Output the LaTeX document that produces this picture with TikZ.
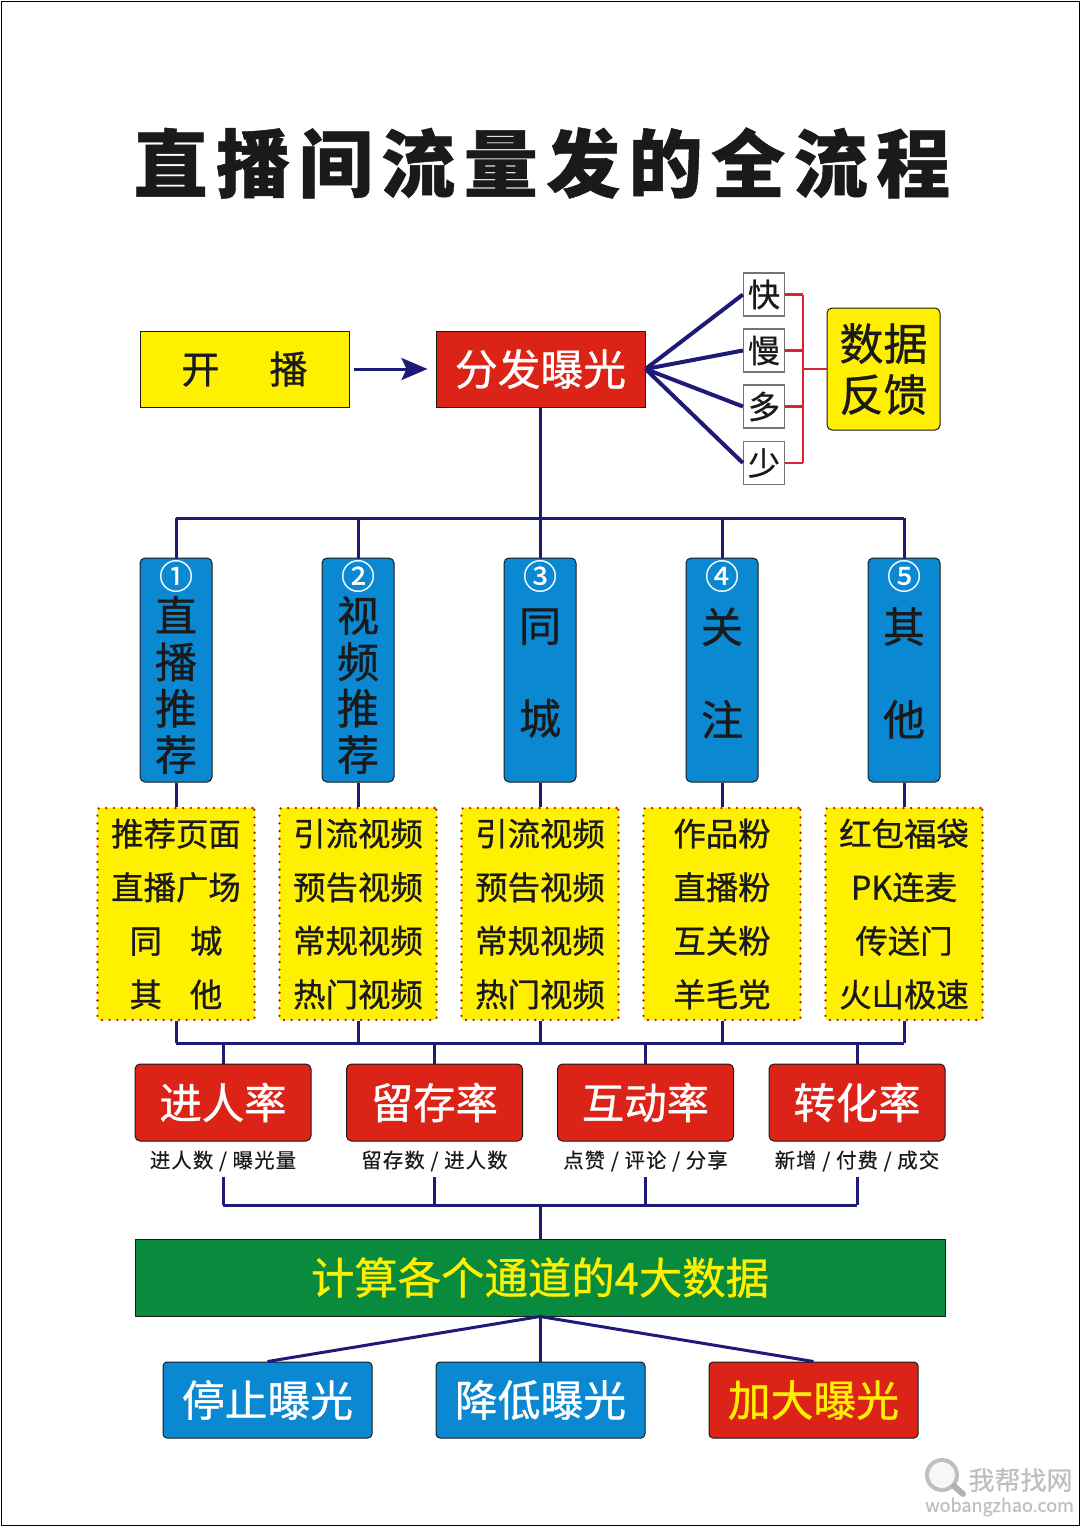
\documentclass[tikz,border=0pt]{standalone}
\usepackage{fontspec}
\setmainfont[FakeBold=0.8]{Noto Sans CJK SC}
\newfontfamily\titlefont[LetterSpace=11.5,FakeBold=0.7]{Noto Sans CJK SC}
\newfontfamily\subfont[LetterSpace=5.5,FakeBold=0.4]{Noto Sans CJK SC}
\usetikzlibrary{arrows.meta}
\definecolor{lineNavy}{HTML}{1E1A78}
\definecolor{lineRed}{HTML}{D8262C}
\definecolor{boxRed}{HTML}{DC2318}
\definecolor{boxBlue}{HTML}{0A88D2}
\definecolor{boxYellow}{HTML}{FFF000}
\definecolor{boxGreen}{HTML}{0A8A3C}
\definecolor{inkDark}{HTML}{1A1A1A}

\begin{document}
\begin{tikzpicture}
[x=0.5pt,y=-0.5pt,
  lineDecorate/.style={-,draw=lineNavy,line width=1.5pt,line join=round},%
  lineFan/.style={-,draw=lineNavy,line width=2pt},
  lineFeedback/.style={-,draw=lineRed,line width=1.4pt,line join=round},
  wideBox/.style={shape=rectangle,draw=inkDark,line width=0.5pt,inner sep=0pt,
    minimum width=104.5pt,minimum height=38pt,font=\fontsize{21.4pt}{25pt}\selectfont},
  smallBox/.style={shape=rectangle,draw=black!55,line width=0.6pt,fill=white,inner sep=0pt,
    minimum width=20.5pt,minimum height=21.5pt,text=inkDark,font=\fontsize{16pt}{20pt}\selectfont},
  channelBox/.style={shape=rectangle,rounded corners=2.5pt,draw=inkDark,line width=0.5pt,
    fill=boxBlue,inner sep=0pt,minimum width=36pt,minimum height=112pt},
  channelText/.style={inner sep=0pt,align=center,text=inkDark,
    font=\fontsize{21pt}{23.2pt}\selectfont},
  numberMark/.style={inner sep=0pt,text=white,font=\fontsize{17pt}{20pt}\selectfont},
  detailBox/.style={shape=rectangle,rounded corners=1pt,draw=boxRed!80!black,fill=boxYellow,
    line width=1.3pt,line cap=round,dash pattern=on 0pt off 3.85pt,inner sep=0pt,
    minimum width=78.5pt,minimum height=106pt,align=center,text=inkDark,
    font=\fontsize{16.2pt}{26.8pt}\selectfont},
  rateBox/.style={shape=rectangle,rounded corners=2.5pt,draw=inkDark,line width=0.5pt,
    fill=boxRed,inner sep=0pt,minimum width=88pt,minimum height=38.5pt,text=white,
    font=\fontsize{21.2pt}{25pt}\selectfont},
  rateNote/.style={inner sep=0pt,minimum width=80pt,minimum height=16pt,text=inkDark,
    font=\subfont\fontsize{10.2pt}{12pt}\selectfont},
  actionBox/.style={shape=rectangle,rounded corners=2pt,draw=inkDark,line width=0.5pt,
    inner sep=0pt,minimum width=104.5pt,minimum height=38pt,
    font=\fontsize{21.4pt}{25pt}\selectfont}]
\useasboundingbox (0,0) rectangle (1080,1527);
\draw[black,line width=0.5pt] (1,1) rectangle (1079,1525);

%% title
\node (title) at (542,163) [inner sep=0pt,text=inkDark,
  font=\titlefont\bfseries\fontsize{37pt}{42pt}\selectfont] {直播间流量发的全流程};

%% top row
\node (start) at (244.5,369) [wideBox,fill=boxYellow,text=inkDark]
  {\fontsize{19pt}{23pt}\selectfont 开\hspace{25pt}播};
\node (fenfa) at (540.5,369) [wideBox,fill=boxRed,text=white] {分发曝光};
\foreach \nodename/\y/\word in {kuai/294.5/快,man/350.5/慢,duo/406.5/多,shao/463/少}
{
  \node (\nodename) at (764,\y) [smallBox] {\word};
}
\node (shuju) at (883.5,369) [shape=rectangle,rounded corners=2.5pt,draw=inkDark,line width=0.5pt,
  fill=boxYellow,inner sep=0pt,minimum width=56.5pt,minimum height=61pt,align=center,text=inkDark,
  font=\fontsize{22pt}{25.5pt}\selectfont] {数据\\反馈};

%% channels
\foreach \nodename/\x/\cy/\word/\mark in {
  ch1/176/685/{直\\播\\推\\荐}/①,
  ch2/358/685/{视\\频\\推\\荐}/②,
  ch3/540/673/{同\\[23.2pt]城}/③,
  ch4/722/673/{关\\[23.2pt]注}/④,
  ch5/904/673/{其\\[23.2pt]他}/⑤}
{
  \node (\nodename) at (\x,670) [channelBox] {};
  \node (\nodename-text) at (\x,\cy) [channelText] {\word};
  \node (\nodename-mark) at (\x,576) [numberMark] {\mark};
}

%% details under each channel
\foreach \nodename/\x/\lines in {
  det1/176/{推荐页面\\直播广场\\同\hspace{14pt}城\\其\hspace{14pt}他},
  det2/358/{引流视频\\预告视频\\常规视频\\热门视频},
  det3/540/{引流视频\\预告视频\\常规视频\\热门视频},
  det4/722/{作品粉\\直播粉\\互关粉\\羊毛党},
  det5/904/{红包福袋\\PK连麦\\传送门\\火山极速}}
{
  \node (\nodename) at (\x,914) [detailBox] {\lines};
}

%% rates
\foreach \nodename/\x/\word/\note in {
  rate1/223/进人率/{进人数 / 曝光量},
  rate2/434.5/留存率/{留存数 / 进人数},
  rate3/645.5/互动率/{点赞 / 评论 / 分享},
  rate4/857/转化率/{新增 / 付费 / 成交}}
{
  \node (\nodename) at (\x,1102.5) [rateBox] {\word};
  \node (\nodename-note) at (\x,1161) [rateNote] {\note};
}

%% result boxes
\node (calc) at (540,1277.5) [shape=rectangle,draw=inkDark,line width=0.5pt,fill=boxGreen,
  inner sep=0pt,minimum width=405pt,minimum height=38.5pt,text=boxYellow,
  font=\fontsize{21.7pt}{25pt}\selectfont] {计算各个通道的4大数据};
\node (stop) at (267.5,1400) [actionBox,fill=boxBlue,text=white] {停止曝光};
\node (lower) at (540.5,1400) [actionBox,fill=boxBlue,text=white] {降低曝光};
\node (raise) at (813.5,1400) [actionBox,fill=boxRed,text=boxYellow] {加大曝光};

%% helper points
\coordinate (feedTop) at (803,294.5);
\coordinate (feedBottom) at (803,463);
\coordinate (busTop) at (540,518);
\coordinate (busMid) at (540,1043);
\coordinate (busLow) at (540,1205);

%% edges or lines
\draw[lineDecorate,-{Stealth[length=13pt,width=11pt,inset=2.5pt]},shorten >=4pt,shorten <=2pt]
  (start.east) -- (fenfa.west);
\path
\foreach \endnode in {kuai,man,duo,shao}
{
  (fenfa.east) edge[lineFan] (\endnode.west)
  (\endnode.east) edge[lineFeedback] (\endnode.east -| feedTop)
};
\draw[lineFeedback] (feedTop) -- (feedBottom);
\draw[lineFeedback] (shuju.west) -- (shuju.west -| feedTop);
\draw[lineDecorate] (fenfa.south) -- (fenfa.south |- busTop);
\draw[lineDecorate] (ch1.north |- busTop) -- (ch5.north |- busTop);
\draw[lineDecorate] (det1.south |- busMid) -- (det5.south |- busMid);
\path
\foreach \i in {1,...,5}
{
  (ch\i.north) edge[lineDecorate] (ch\i.north |- busTop)
  (ch\i.south) edge[lineDecorate] (det\i.north)
  (det\i.south) edge[lineDecorate] (det\i.south |- busMid)
};
\path
\foreach \i in {1,...,4}
{
  (rate\i.north) edge[lineDecorate] (rate\i.north |- busMid)
  (rate\i-note.south) edge[lineDecorate] (rate\i-note.south |- busLow)
};
\draw[lineDecorate] (rate1-note.south |- busLow) -- (rate4-note.south |- busLow);
\draw[lineDecorate] (busLow) -- (calc.north);
\draw[lineDecorate] (calc.south) -- (stop.north);
\draw[lineDecorate] (calc.south) -- (calc.south |- lower.north);
\draw[lineDecorate] (calc.south) -- (raise.north);

%% watermark
\draw[black!25,line width=2pt,fill=black!3] (942,1475) circle (15);
\draw[black!30,line width=3pt,line cap=round] (954,1486) -- (963,1494);
\node (markCn) at (1020.5,1480) [inner sep=0pt,text=black!25,
  font=\fontsize{13pt}{15pt}\selectfont] {我帮找网};
\node (markEn) at (999.5,1507) [inner sep=0pt,text=black!25,
  font=\fontsize{9pt}{11pt}\selectfont] {wobangzhao.com};
\end{tikzpicture}
\end{document}
